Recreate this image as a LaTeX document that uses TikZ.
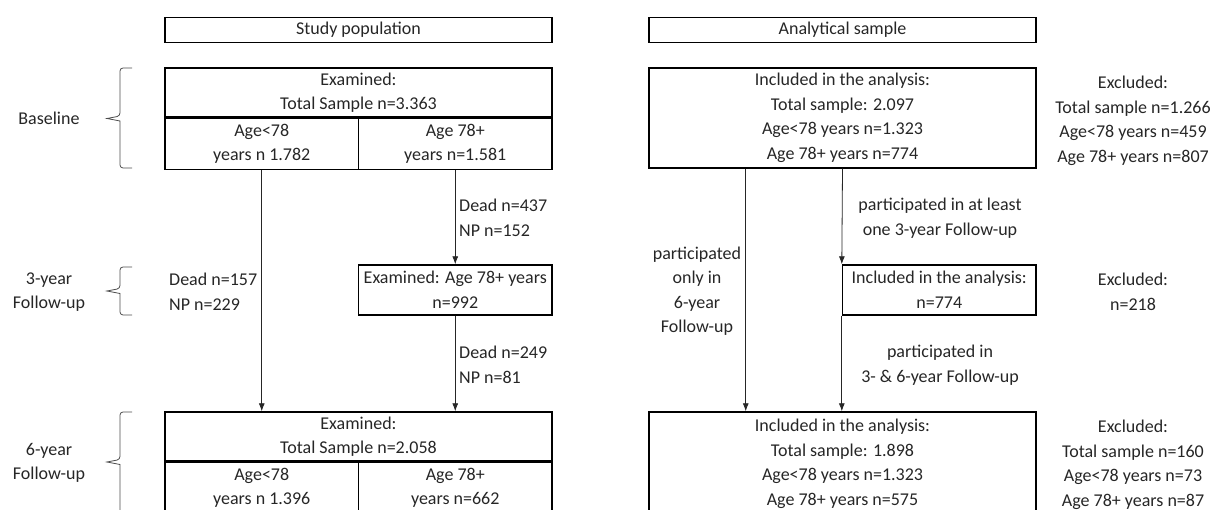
\documentclass[tikz,border=0pt]{standalone}
\usepackage{fontspec}
\setmainfont{Carlito}
\usetikzlibrary{positioning}
\usetikzlibrary{arrows.meta}
\tikzset{
    titlebox/.style = {draw=black, line width=1.4pt, minimum width=387pt, minimum height=25pt, inner sep=0pt},
    headbox/.style = {draw=black, line width=1.4pt, minimum width=387pt, minimum height=49pt, align=center, inner sep=0pt},
    cellbox/.style = {draw=black, line width=1.4pt, minimum width=193.5pt, minimum height=51pt, align=center, inner sep=0pt},
    midbox/.style = {draw=black, line width=1.4pt, minimum width=193.5pt, minimum height=50pt, align=center, inner sep=0pt},
    bigbox/.style = {draw=black, line width=1.4pt, minimum width=387pt, minimum height=100pt, align=center, inner sep=0pt},
    note/.style = {align=center, inner sep=0pt},
    notel/.style = {align=left, anchor=west, inner sep=0pt},
    flow/.style = {-{Latex[length=8pt,width=6pt]}, line width=0.8pt, black!85},
    wave/.style = {line width=0.8pt, black!70, rounded corners=3pt}
}

\begin{document}
\begin{tikzpicture}[
	x=1pt, y=-1pt,
	font=\fontsize{18}{24.5}\selectfont, text=black!85]
  \useasboundingbox (0,0) rectangle (1213,510);
  \clip (0,0) rectangle (1213,510);
  % column titles
  \node (stitle) at (358.5,30) [titlebox] {Study population};
  \node (atitle) at (842.5,30) [titlebox] {Analytical sample};
  % study population
  \node (bhead) at (358.5,92.5) [headbox] {Examined:\\Total Sample n=3.363};
  \node (byoung) [cellbox, below right=0pt and 0pt of bhead.south west] {Age<78\\years n 1.782};
  \node (bold) [cellbox, below left=0pt and 0pt of bhead.south east] {Age 78+\\years n=1.581};
  \node (bmid) at (455.25,290) [midbox] {Examined: Age 78+ years\\n=992};
  \node (fhead) at (358.5,436.5) [headbox] {Examined:\\Total Sample n=2.058};
  \node (fyoung) [cellbox, below right=0pt and 0pt of fhead.south west] {Age<78\\years n 1.396};
  \node (fold) [cellbox, below left=0pt and 0pt of fhead.south east] {Age 78+\\years n=662};
  \node (dead1) at (459,218) [notel] {Dead n=437\\NP n=152};
  \node (dead2) at (459,365) [notel] {Dead n=249\\NP n=81};
  \node (dead3) at (169,292) [notel] {Dead n=157\\NP n=229};
  \draw[flow] (byoung.south) -- (byoung.south |- fhead.north);
  \draw[flow] (bold.south) -- (bmid.north);
  \draw[flow] (bmid.south) -- (fhead.north -| bmid.south);
  % analytical sample
  \node (atop) at (842.5,118) [bigbox] {Included in the analysis:\\Total sample: 2.097\\Age<78 years n=1.323\\Age 78+ years n=774};
  \node (amid) at (939.25,290) [midbox] {Included in the analysis:\\n=774};
  \node (abot) at (842.5,464) [bigbox, minimum height=104pt] {Included in the analysis:\\Total sample: 1.898\\Age<78 years n=1.323\\Age 78+ years n=575};
  \node (atopx) at (1133,121) [note] {Excluded:\\Total sample n=1.266\\Age<78 years n=459\\Age 78+ years n=807};
  \node (amidx) at (1133,292) [note] {Excluded:\\n=218};
  \node (abotx) at (1133,465) [note] {Excluded:\\Total sample n=160\\Age<78 years n=73\\Age 78+ years n=87};
  \node (part1) at (940,218) [note] {participated in at least\\one 3-year Follow-up};
  \node (part2) at (697,291) [note] {participated\\only in\\6-year\\Follow-up};
  \node (part3) at (940,365) [note] {participated in\\3- \& 6-year Follow-up};
  \coordinate (aleft) at ([xshift=-96.75pt]atop.south);
  \draw[flow] (aleft) -- (aleft |- abot.north);
  \draw[flow] (atop.south) -- (amid.north west);
  \draw[flow] (amid.south west) -- (amid.south west |- abot.north);
  % waves
  \node (lbase) at (49,118) [note] {Baseline};
  \node (lthree) at (49,292) [note] {3-year\\Follow-up};
  \node (lsix) at (49,463) [note] {6-year\\Follow-up};
  \foreach \t/\m/\b in {68/118.5/168, 267/291/315, 412/462/513}
    \draw[wave] (132,\t) -- (120,\t) -- (120,\m-2.5) [sharp corners] -- (107,\m) -- (120,\m+2.5) [rounded corners=3pt] -- (120,\b) -- (132,\b);
\end{tikzpicture}
\end{document}
